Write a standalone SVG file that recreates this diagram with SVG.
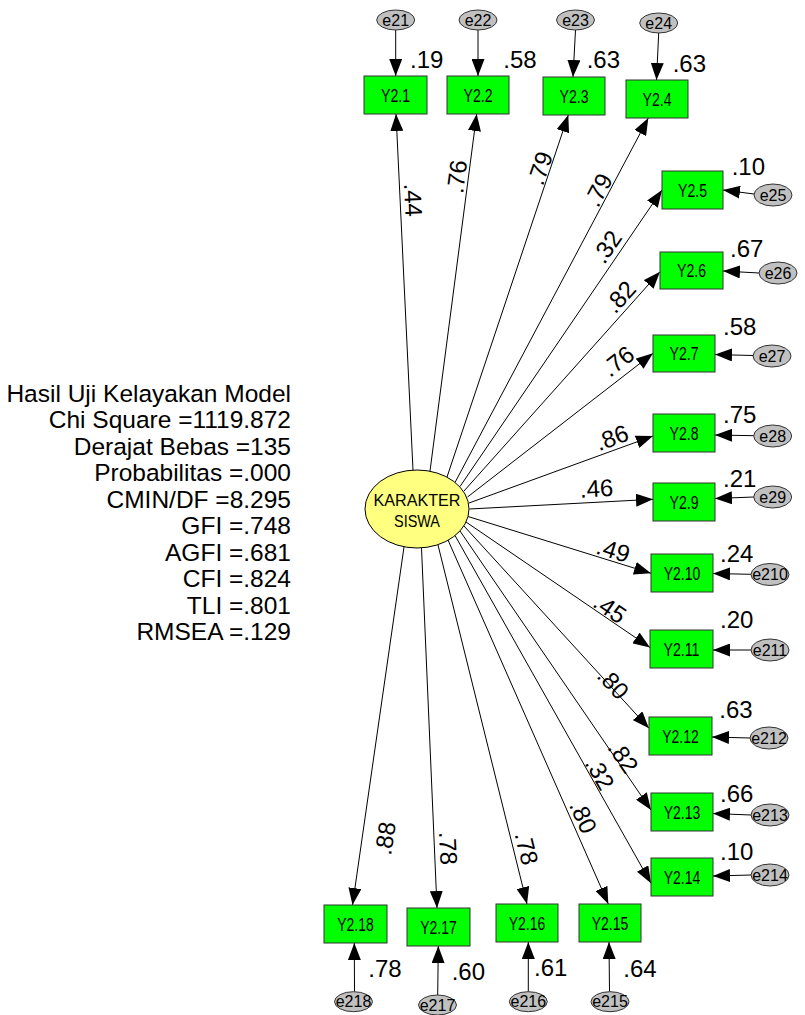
<svg xmlns="http://www.w3.org/2000/svg" width="805" height="1015" viewBox="0 0 805 1015">
<style>
.bg{fill:#fff}
.box{fill:#00ff00;stroke:#333;stroke-width:1}
.blab{font-family:"Liberation Sans Narrow","Liberation Sans",Arial,sans-serif;font-size:18px;text-anchor:middle;fill:#000}
.err{fill:#c0c0c0;stroke:#333;stroke-width:1}
.elab{font-family:"Liberation Sans",Arial,sans-serif;font-size:16px;text-anchor:middle;fill:#000}
.lat{fill:#ffff80;stroke:#000;stroke-width:1}
.llab{font-family:"Liberation Sans Narrow","Liberation Sans",Arial,sans-serif;font-size:17px;text-anchor:middle;fill:#000}
.num{font-family:"Liberation Sans",Arial,sans-serif;font-size:24px;fill:#000}
.pl{font-family:"Liberation Sans",Arial,sans-serif;font-size:24px;fill:#000;text-anchor:middle}
.fit{font-family:"Liberation Sans",Arial,sans-serif;font-size:24.5px;fill:#000;text-anchor:end}
.c line{stroke:#000;stroke-width:1;marker-end:url(#ah)}
</style>
<defs>
<marker id="ah" markerUnits="userSpaceOnUse" markerWidth="17" markerHeight="13" refX="17" refY="6.5" orient="auto" viewBox="0 0 17 13"><path d="M0,0 L17,6.5 L0,13 z" fill="#000"/></marker>
</defs>
<rect class="bg" x="0" y="0" width="805" height="1015"/>

<g id="connectors" class="c">
<line x1="413" y1="470" x2="396" y2="114"/>
<line x1="430" y1="471" x2="476.7" y2="114"/>
<line x1="447" y1="477" x2="568.3" y2="115"/>
<line x1="455" y1="482.5" x2="648.3" y2="118"/>
<line x1="460" y1="486.5" x2="662" y2="190"/>
<line x1="464" y1="491" x2="660" y2="271.7"/>
<line x1="467.5" y1="497" x2="653" y2="353.3"/>
<line x1="469" y1="503" x2="653" y2="436"/>
<line x1="469.5" y1="509" x2="653" y2="499.3"/>
<line x1="468" y1="516.5" x2="651" y2="573.3"/>
<line x1="466" y1="522" x2="650" y2="647.5"/>
<line x1="464" y1="526" x2="649" y2="728.3"/>
<line x1="460" y1="531" x2="651" y2="810"/>
<line x1="455" y1="535.5" x2="651" y2="883.3"/>
<line x1="448" y1="540" x2="608.3" y2="904"/>
<line x1="438" y1="545" x2="527" y2="904"/>
<line x1="421.5" y1="548" x2="437" y2="908"/>
<line x1="404" y1="547" x2="352.5" y2="905"/>
<line x1="395.7" y1="30" x2="395.7" y2="76"/>
<line x1="478" y1="30" x2="478" y2="76"/>
<line x1="575.5" y1="30" x2="573" y2="77"/>
<line x1="658.7" y1="33" x2="656.5" y2="80"/>
<line x1="754" y1="194" x2="723" y2="190"/>
<line x1="759" y1="273" x2="723" y2="271"/>
<line x1="753" y1="355.5" x2="715" y2="354.5"/>
<line x1="753.7" y1="435.7" x2="715" y2="435"/>
<line x1="753.7" y1="497" x2="715" y2="498.5"/>
<line x1="751" y1="574.3" x2="713" y2="573.5"/>
<line x1="751" y1="650" x2="713" y2="650"/>
<line x1="750" y1="738" x2="712" y2="737"/>
<line x1="751" y1="815" x2="713" y2="813.5"/>
<line x1="751" y1="875" x2="713" y2="876"/>
<line x1="354.5" y1="991.7" x2="354.3" y2="943"/>
<line x1="437.7" y1="995" x2="438.3" y2="946"/>
<line x1="528.3" y1="991.7" x2="528.3" y2="942"/>
<line x1="609.5" y1="991.7" x2="609" y2="942"/>
</g>

<g id="path-labels">
<text class="pl" transform="translate(413.3,200) rotate(87.3)" y="8.5">.44</text>
<text class="pl" transform="translate(456.7,176.7) rotate(-82.5)" y="8.5">.76</text>
<text class="pl" transform="translate(540,168.3) rotate(-71.4)" y="8.5">.79</text>
<text class="pl" transform="translate(598.3,190) rotate(-62)" y="8.5">.79</text>
<text class="pl" transform="translate(606.7,246.7) rotate(-55.7)" y="8.5">.32</text>
<text class="pl" transform="translate(620,296.7) rotate(-48.2)" y="8.5">.82</text>
<text class="pl" transform="translate(618,361) rotate(-38)" y="8.5">.76</text>
<text class="pl" transform="translate(611.7,437.5) rotate(-19.8)" y="8.5">.86</text>
<text class="pl" transform="translate(596.5,488.3) rotate(-3)" y="8.5">.46</text>
<text class="pl" transform="translate(613.3,550) rotate(17.3)" y="8.5">.49</text>
<text class="pl" transform="translate(610,608.3) rotate(34.5)" y="8.5">.45</text>
<text class="pl" transform="translate(613.3,683.3) rotate(47.7)" y="8.5">.80</text>
<text class="pl" transform="translate(623.3,756.7) rotate(55.7)" y="8.5">.82</text>
<text class="pl" transform="translate(600,773.3) rotate(60.3)" y="8.5">.32</text>
<text class="pl" transform="translate(583.3,816.7) rotate(65.9)" y="8.5">.80</text>
<text class="pl" transform="translate(526.7,848.3) rotate(76)" y="8.5">.78</text>
<text class="pl" transform="translate(448.3,848.3) rotate(87.2)" y="8.5">.78</text>
<text class="pl" transform="translate(385,838.3) rotate(-81.8)" y="8.5">.88</text>
</g>

<g id="KARAKTER_SISWA">
<ellipse class="lat" cx="417" cy="509" rx="52" ry="39"/>
<text class="llab" x="417" y="506" textLength="87" lengthAdjust="spacingAndGlyphs">KARAKTER</text>
<text class="llab" x="417" y="526.5" textLength="46" lengthAdjust="spacingAndGlyphs">SISWA</text>
</g>

<g id="Y2.1"><rect class="box" x="364" y="76" width="63" height="38"/><text class="blab" x="395.5" y="101.5" textLength="29" lengthAdjust="spacingAndGlyphs">Y2.1</text></g>
<g id="Y2.2"><rect class="box" x="447" y="76" width="62" height="38"/><text class="blab" x="478" y="101.5" textLength="29" lengthAdjust="spacingAndGlyphs">Y2.2</text></g>
<g id="Y2.3"><rect class="box" x="543" y="77" width="62" height="38"/><text class="blab" x="574" y="102.5" textLength="29" lengthAdjust="spacingAndGlyphs">Y2.3</text></g>
<g id="Y2.4"><rect class="box" x="626" y="80" width="62" height="38"/><text class="blab" x="657" y="105.5" textLength="29" lengthAdjust="spacingAndGlyphs">Y2.4</text></g>
<g id="Y2.5"><rect class="box" x="662" y="171" width="61" height="38"/><text class="blab" x="692.5" y="196.5" textLength="29" lengthAdjust="spacingAndGlyphs">Y2.5</text></g>
<g id="Y2.6"><rect class="box" x="660" y="252" width="63" height="37"/><text class="blab" x="691.5" y="277" textLength="29" lengthAdjust="spacingAndGlyphs">Y2.6</text></g>
<g id="Y2.7"><rect class="box" x="653" y="335" width="62" height="37"/><text class="blab" x="684" y="360" textLength="29" lengthAdjust="spacingAndGlyphs">Y2.7</text></g>
<g id="Y2.8"><rect class="box" x="653" y="414" width="62" height="38"/><text class="blab" x="684" y="439.5" textLength="29" lengthAdjust="spacingAndGlyphs">Y2.8</text></g>
<g id="Y2.9"><rect class="box" x="653" y="483" width="62" height="38"/><text class="blab" x="684" y="508.5" textLength="29" lengthAdjust="spacingAndGlyphs">Y2.9</text></g>
<g id="Y2.10"><rect class="box" x="651" y="554" width="62" height="38"/><text class="blab" x="682" y="579.5" textLength="36.5" lengthAdjust="spacingAndGlyphs">Y2.10</text></g>
<g id="Y2.11"><rect class="box" x="650" y="630" width="63" height="38"/><text class="blab" x="681.5" y="655.5" textLength="36" lengthAdjust="spacingAndGlyphs">Y2.11</text></g>
<g id="Y2.12"><rect class="box" x="649" y="717" width="63" height="38"/><text class="blab" x="680.5" y="742.5" textLength="36.5" lengthAdjust="spacingAndGlyphs">Y2.12</text></g>
<g id="Y2.13"><rect class="box" x="651" y="793" width="62" height="38"/><text class="blab" x="682" y="818.5" textLength="36.5" lengthAdjust="spacingAndGlyphs">Y2.13</text></g>
<g id="Y2.14"><rect class="box" x="651" y="858" width="62" height="38"/><text class="blab" x="682" y="883.5" textLength="36.5" lengthAdjust="spacingAndGlyphs">Y2.14</text></g>
<g id="Y2.15"><rect class="box" x="579" y="904" width="62" height="38"/><text class="blab" x="610" y="929.5" textLength="36.5" lengthAdjust="spacingAndGlyphs">Y2.15</text></g>
<g id="Y2.16"><rect class="box" x="496" y="904" width="62" height="38"/><text class="blab" x="527" y="929.5" textLength="36.5" lengthAdjust="spacingAndGlyphs">Y2.16</text></g>
<g id="Y2.17"><rect class="box" x="407" y="908" width="63" height="38"/><text class="blab" x="438.5" y="933.5" textLength="36.5" lengthAdjust="spacingAndGlyphs">Y2.17</text></g>
<g id="Y2.18"><rect class="box" x="324" y="905" width="63" height="38"/><text class="blab" x="355.5" y="930.5" textLength="36.5" lengthAdjust="spacingAndGlyphs">Y2.18</text></g>

<g id="e21"><ellipse class="err" cx="395.7" cy="20" rx="19" ry="10"/><text class="elab" x="395.7" y="25.5">e21</text></g>
<g id="e22"><ellipse class="err" cx="478" cy="20" rx="19" ry="10"/><text class="elab" x="478" y="25.5">e22</text></g>
<g id="e23"><ellipse class="err" cx="575.5" cy="20" rx="19" ry="10"/><text class="elab" x="575.5" y="25.5">e23</text></g>
<g id="e24"><ellipse class="err" cx="658.7" cy="23" rx="19" ry="10"/><text class="elab" x="658.7" y="28.5">e24</text></g>
<g id="e25"><ellipse class="err" cx="773" cy="195" rx="19" ry="11"/><text class="elab" x="773" y="200.5">e25</text></g>
<g id="e26"><ellipse class="err" cx="778" cy="273" rx="19" ry="11"/><text class="elab" x="778" y="278.5">e26</text></g>
<g id="e27"><ellipse class="err" cx="772" cy="356" rx="19" ry="11"/><text class="elab" x="772" y="361.5">e27</text></g>
<g id="e28"><ellipse class="err" cx="772.7" cy="436" rx="19" ry="11"/><text class="elab" x="772.7" y="441.5">e28</text></g>
<g id="e29"><ellipse class="err" cx="772.7" cy="497" rx="19" ry="11"/><text class="elab" x="772.7" y="502.5">e29</text></g>
<g id="e210"><ellipse class="err" cx="770" cy="574.5" rx="19" ry="11"/><text class="elab" x="770" y="580">e210</text></g>
<g id="e211"><ellipse class="err" cx="770" cy="650" rx="19" ry="11"/><text class="elab" x="770" y="655.5">e211</text></g>
<g id="e212"><ellipse class="err" cx="769" cy="738" rx="19" ry="11"/><text class="elab" x="769" y="743.5">e212</text></g>
<g id="e213"><ellipse class="err" cx="770" cy="815" rx="19" ry="11"/><text class="elab" x="770" y="820.5">e213</text></g>
<g id="e214"><ellipse class="err" cx="770" cy="875" rx="19" ry="11"/><text class="elab" x="770" y="880.5">e214</text></g>
<g id="e215"><ellipse class="err" cx="610" cy="1001.7" rx="19" ry="10"/><text class="elab" x="610" y="1007">e215</text></g>
<g id="e216"><ellipse class="err" cx="528.3" cy="1001.7" rx="19" ry="10"/><text class="elab" x="528.3" y="1007">e216</text></g>
<g id="e217"><ellipse class="err" cx="437.5" cy="1005" rx="19" ry="10"/><text class="elab" x="437.5" y="1010.5">e217</text></g>
<g id="e218"><ellipse class="err" cx="353.5" cy="1001.7" rx="19" ry="10"/><text class="elab" x="353.5" y="1007">e218</text></g>

<g id="r-squared">
<text class="num" x="410" y="68">.19</text>
<text class="num" x="503.3" y="67.7">.58</text>
<text class="num" x="586.7" y="68.3">.63</text>
<text class="num" x="672.7" y="71.7">.63</text>
<text class="num" x="731.7" y="175">.10</text>
<text class="num" x="730" y="256.7">.67</text>
<text class="num" x="723" y="335">.58</text>
<text class="num" x="723" y="422.7">.75</text>
<text class="num" x="723" y="486.7">.21</text>
<text class="num" x="720" y="561.7">.24</text>
<text class="num" x="720" y="628.3">.20</text>
<text class="num" x="719.3" y="718.3">.63</text>
<text class="num" x="720" y="801.7">.66</text>
<text class="num" x="720" y="860">.10</text>
<text class="num" x="368.3" y="976.7">.78</text>
<text class="num" x="451.7" y="980">.60</text>
<text class="num" x="534" y="976">.61</text>
<text class="num" x="623.3" y="976.7">.64</text>
</g>

<g id="fit-summary">
<text class="fit" x="291" y="401.5">Hasil Uji Kelayakan Model</text>
<text class="fit" x="291" y="428">Chi Square =1119.872</text>
<text class="fit" x="291" y="454.5">Derajat Bebas =135</text>
<text class="fit" x="291" y="481">Probabilitas =.000</text>
<text class="fit" x="291" y="507.5">CMIN/DF =8.295</text>
<text class="fit" x="291" y="534">GFI =.748</text>
<text class="fit" x="291" y="560.5">AGFI =.681</text>
<text class="fit" x="291" y="587">CFI =.824</text>
<text class="fit" x="291" y="613.5">TLI =.801</text>
<text class="fit" x="291" y="640">RMSEA =.129</text>
</g>
</svg>
